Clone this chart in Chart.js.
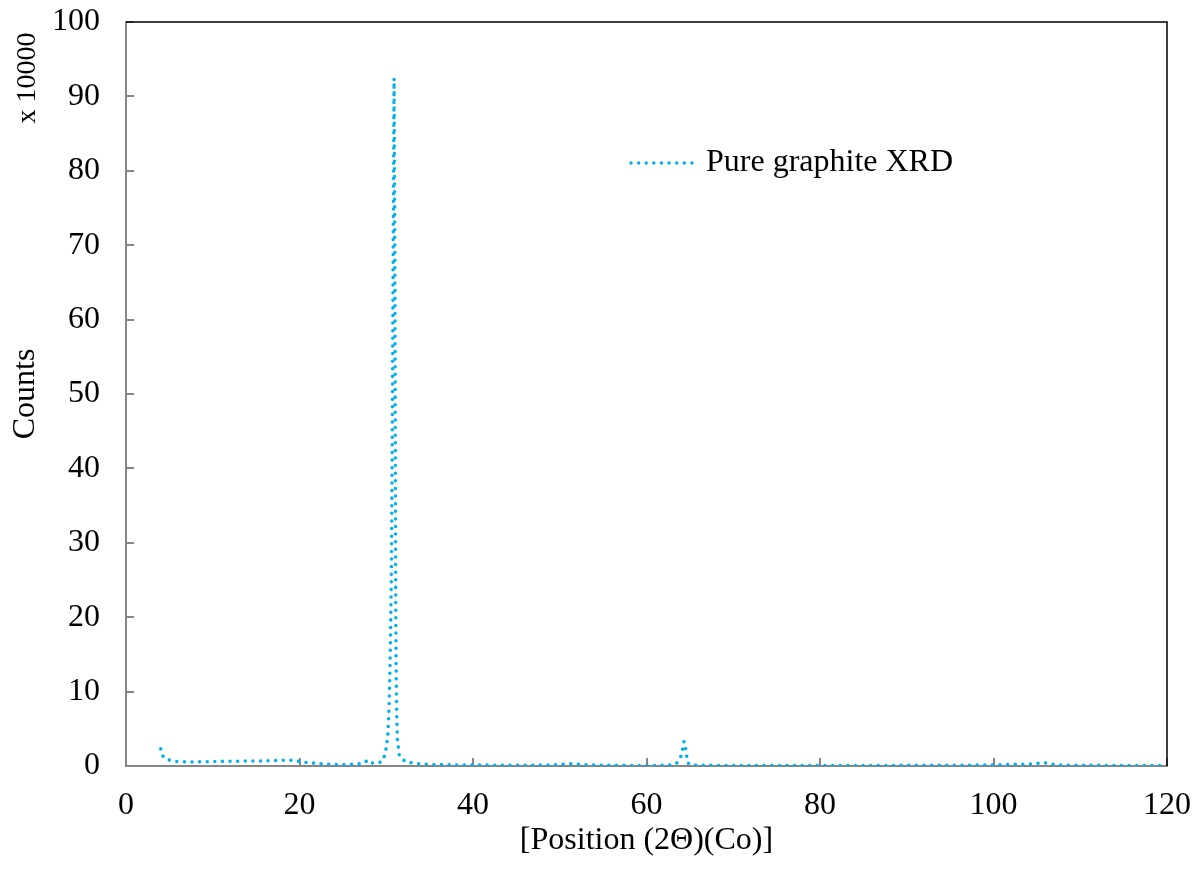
<!DOCTYPE html>
<html>
<head>
<meta charset="utf-8">
<script src="https://cdn.jsdelivr.net/npm/chart.js@4.4.1/dist/chart.umd.min.js"></script>
<style>
  html, body { margin: 0; padding: 0; background: #fff; }
  #grafico { display: block; }
</style>
</head>
<body>
<canvas id="grafico" width="1197" height="869"></canvas>
<script>
// Difratograma de grafite puro (contagens em unidades de 10000)
const posicao = [
  4.0, 4.2, 4.6, 5.0, 5.5, 6, 7, 8, 9, 10,
  11, 12, 13, 14, 15, 16, 17, 18, 18.8, 19.5,
  20.2, 21, 22, 23, 24, 25, 26, 27, 27.5, 27.9,
  28.4, 28.9, 29.3, 29.65, 29.85, 30.05, 30.2, 30.3, 30.4, 30.5,
  30.6, 30.7, 30.8, 30.9, 31.0, 31.05, 31.1, 31.15, 31.2, 31.28,
  31.4, 31.5, 31.7, 31.95, 32.5, 33.3, 34.5, 36, 38, 40,
  42, 44, 46, 48, 49.5, 50.5, 51.5, 52.5, 54, 56,
  58, 60, 61.5, 62.5, 63.2, 63.55, 63.95, 64.15, 64.32, 64.5,
  64.62, 64.78, 65.1, 66, 68, 70, 73, 76, 79, 82,
  85, 88, 91, 94, 97, 100, 102, 103.5, 104.8, 105.7,
  106.5, 107.5, 109, 111, 113, 115, 117, 119, 120
];

const contagens = [
  2.3, 1.4, 1.0, 0.8, 0.65, 0.6, 0.55, 0.55, 0.58, 0.6,
  0.62, 0.65, 0.65, 0.68, 0.65, 0.7, 0.72, 0.78, 0.8, 0.72,
  0.55, 0.45, 0.35, 0.25, 0.22, 0.2, 0.22, 0.3, 0.5, 0.8,
  0.4, 0.42, 0.5, 0.8, 1.6, 2.8, 4.6, 7.1, 11.5, 17.5,
  27, 45, 70, 92.4, 68, 40, 20, 11.5, 7.5, 3.6,
  2.5, 1.5, 1.1, 0.8, 0.5, 0.35, 0.25, 0.2, 0.15, 0.15,
  0.12, 0.1, 0.1, 0.12, 0.15, 0.25, 0.3, 0.2, 0.12, 0.1,
  0.08, 0.08, 0.08, 0.1, 0.2, 0.45, 1.25, 2.2, 3.3, 2.5,
  1.4, 0.4, 0.15, 0.1, 0.08, 0.08, 0.07, 0.07, 0.07, 0.07,
  0.07, 0.08, 0.1, 0.1, 0.1, 0.15, 0.22, 0.25, 0.3, 0.45,
  0.3, 0.15, 0.1, 0.1, 0.08, 0.08, 0.07, 0.07, 0.07
];

const nomeSerie = 'Pure graphite XRD';
const tituloX = '[Position (2\u0398)(Co)]';
const tituloY = 'Counts';
const multiplicador = 'x 10000';

const corSerie = '#00b0f0';
const corEixo = '#868686';
const fonteSerif = 'Liberation Serif';
const tamanhoFonte = 32;

const pontos = posicao.map((x, i) => ({ x: x, y: contagens[i] }));

// moldura preta em cima e à direita + rótulo do multiplicador + legenda
const extras = {
  id: 'extras',
  afterDraw(chart) {
    const { ctx, chartArea } = chart;
    ctx.save();
    ctx.strokeStyle = '#000';
    ctx.lineWidth = 1.5;
    ctx.beginPath();
    ctx.moveTo(chartArea.left, chartArea.top);
    ctx.lineTo(chartArea.right, chartArea.top);
    ctx.lineTo(chartArea.right, chartArea.bottom);
    ctx.stroke();

    // x 10000
    ctx.fillStyle = '#000';
    ctx.font = '28px "' + fonteSerif + '"';
    ctx.textAlign = 'center';
    ctx.textBaseline = 'middle';
    ctx.translate(28, 78);
    ctx.rotate(-Math.PI / 2);
    ctx.fillText(multiplicador, 0, 0);
    ctx.restore();

    // legenda
    const ds = chart.data.datasets[0];
    ctx.save();
    ctx.strokeStyle = ds.borderColor;
    ctx.lineWidth = ds.borderWidth;
    ctx.lineCap = ds.borderCapStyle;
    ctx.setLineDash(ds.borderDash);
    ctx.beginPath();
    ctx.moveTo(631, 163);
    ctx.lineTo(697, 163);
    ctx.stroke();
    ctx.setLineDash([]);
    ctx.fillStyle = '#000';
    ctx.font = tamanhoFonte + 'px "' + fonteSerif + '"';
    ctx.textAlign = 'left';
    ctx.textBaseline = 'middle';
    ctx.fillText(ds.label, 706, 163);
    ctx.restore();
  }
};

const ctx = document.getElementById('grafico').getContext('2d');
const grafico = new Chart(ctx, {
  type: 'scatter',
  data: {
    datasets: [{
      label: nomeSerie,
      data: pontos,
      showLine: true,
      borderColor: corSerie,
      backgroundColor: corSerie,
      borderWidth: 3.5,
      borderDash: [0.01, 7.6],
      borderCapStyle: 'round',
      pointRadius: 0,
      tension: 0
    }]
  },
  options: {
    responsive: false,
    animation: false,
    devicePixelRatio: 1,
    layout: { padding: { top: 22, right: 30, left: 0, bottom: 0 } },
    plugins: {
      legend: { display: false },
      tooltip: { enabled: false }
    },
    scales: {
      x: {
        type: 'linear',
        min: 0,
        max: 120,
        afterFit: s => {
          s.height = 103;
          s.paddingLeft = 0;
          s.paddingRight = 0;
        },
        ticks: {
          stepSize: 20,
          padding: 28,
          color: '#000',
          font: { family: fonteSerif, size: tamanhoFonte }
        },
        grid: { drawOnChartArea: false, tickLength: -8, color: corEixo, lineWidth: 2 },
        border: { color: corEixo, width: 2 },
        title: {
          display: true,
          text: tituloX,
          color: '#000',
          font: { family: fonteSerif, size: tamanhoFonte },
          padding: { top: 0, bottom: 9 }
        }
      },
      y: {
        min: 0,
        max: 100,
        afterFit: s => {
          s.width = 126;
          s.paddingTop = 0;
          s.paddingBottom = 0;
        },
        ticks: {
          stepSize: 10,
          padding: 34,
          color: '#000',
          font: { family: fonteSerif, size: tamanhoFonte }
        },
        grid: { drawOnChartArea: false, tickLength: -8, color: corEixo, lineWidth: 2 },
        border: { color: corEixo, width: 2 },
        title: {
          display: true,
          text: tituloY,
          color: '#000',
          font: { family: fonteSerif, size: tamanhoFonte },
          padding: { top: 6, bottom: 0 }
        }
      }
    }
  },
  plugins: [extras]
});
</script>
</body>
</html>
